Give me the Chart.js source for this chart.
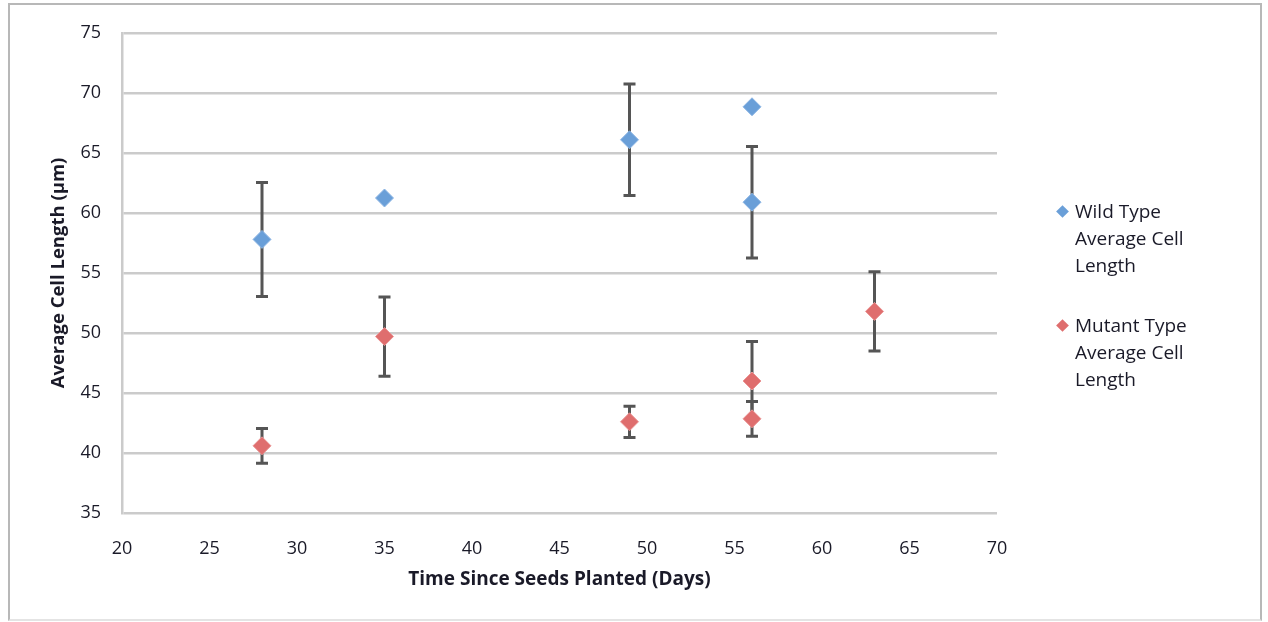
<!DOCTYPE html>
<html>
<head>
<meta charset="utf-8">
<script src="https://cdn.jsdelivr.net/npm/chart.js@4.4.1/dist/chart.umd.min.js"></script>
<style>
  html, body { margin: 0; padding: 0; background: #fff; }
  #wrap { position: relative; width: 1268px; height: 622px; overflow: hidden; }
  #frame { position: absolute; left: 8px; top: 3px; width: 1254px; height: 618px; border: 2px solid #b8b8b8; border-bottom-color: #e4e4e4; box-sizing: border-box; }
  canvas { position: absolute; left: 0; top: 0; }
  .legend { position: absolute; left: 1057px; font-family: 'Open Sans', Lato, sans-serif; font-size: 19px; line-height: 27px; color: #1a1a28; }
  .legend .mk { position: absolute; left: 1px; top: 9px; width: 9px; height: 9px; transform: rotate(45deg); }
  .legend .tx { margin-left: 18px; }
</style>
</head>
<body>
<div id="wrap">
  <div id="frame"></div>
  <canvas id="c" width="1268" height="622"></canvas>
  <div class="legend" style="top:198px"><span class="mk" style="background:#6a9fd8"></span><div class="tx">Wild Type<br>Average Cell<br>Length</div></div>
  <div class="legend" style="top:312px"><span class="mk" style="background:#df6e6e"></span><div class="tx">Mutant Type<br>Average Cell<br>Length</div></div>
</div>
<script>
// Average cell length, wild vs mutant, with error bars (± value, null = none)
const wildDays = [28, 35, 49, 56, 56];
const wildMean = [57.8, 61.25, 66.1, 68.85, 60.9];
const wildErr  = [4.75, null, 4.65, null, 4.65];

const mutDays = [28, 35, 49, 56, 56, 63];
const mutMean = [40.6, 49.7, 42.6, 46.0, 42.85, 51.8];
const mutErr  = [1.45, 3.3, 1.3, 3.3, 1.45, 3.3];

const xTicks = [20, 25, 30, 35, 40, 45, 50, 55, 60, 65, 70];
const yTicks = [35, 40, 45, 50, 55, 60, 65, 70, 75];

const BLUE = '#6a9fd8', RED = '#df6e6e', GRID = '#cbcbcb', INK = '#1a1a28', BAR = '#555555';
const FONT = "'Open Sans', Lato, sans-serif";

const pts = (xs, ys, es) => xs.map((x, i) => ({ x, y: ys[i], e: es[i] }));

// error bars drawn under the markers
const errorBars = {
  id: 'errorBars',
  beforeDatasetsDraw(chart) {
    const { ctx, scales: { x, y } } = chart;
    ctx.save();
    ctx.strokeStyle = BAR;
    ctx.lineWidth = 3;
    chart.data.datasets.forEach((ds) => {
      ds.data.forEach((p) => {
        if (p.e == null) return;
        const px = x.getPixelForValue(p.x);
        const top = y.getPixelForValue(p.y + p.e), bot = y.getPixelForValue(p.y - p.e);
        ctx.beginPath();
        ctx.moveTo(px, top); ctx.lineTo(px, bot);
        ctx.moveTo(px - 6, top); ctx.lineTo(px + 6, top);
        ctx.moveTo(px - 6, bot); ctx.lineTo(px + 6, bot);
        ctx.stroke();
      });
    });
    ctx.restore();
  },
};

new Chart(document.getElementById('c'), {
  type: 'scatter',
  data: {
    datasets: [
      { label: 'Wild Type Average Cell Length', data: pts(wildDays, wildMean, wildErr), pointStyle: 'rectRot', pointRadius: 9, backgroundColor: BLUE, borderColor: '#8db6e4', borderWidth: 1 },
      { label: 'Mutant Type Average Cell Length', data: pts(mutDays, mutMean, mutErr), pointStyle: 'rectRot', pointRadius: 9, backgroundColor: RED, borderColor: '#ea9494', borderWidth: 1 },
    ],
  },
  options: {
    responsive: false,
    animation: false,
    events: [],
    layout: { padding: { left: 10, top: 33, right: 271, bottom: 10 } },
    plugins: { legend: { display: false }, tooltip: { enabled: false } },
    scales: {
      x: {
        type: 'linear', min: 20, max: 70,
        afterFit: (s) => { s.height = 99; },
        afterBuildTicks: (s) => { s.ticks = xTicks.map((v) => ({ value: v })); },
        grid: { display: false },
        border: { display: false },
        ticks: { padding: 17, color: INK, font: { family: FONT, size: 18 } },
        title: { display: true, text: 'Time Since Seeds Planted (Days)', color: INK, font: { family: FONT, size: 19, weight: 'bold' }, padding: { top: 0, bottom: 21 } },
      },
      y: {
        type: 'linear', min: 35, max: 75,
        afterFit: (s) => { s.width = 112; },
        afterBuildTicks: (s) => { s.ticks = yTicks.map((v) => ({ value: v })); },
        grid: { color: GRID, lineWidth: 2.5, drawTicks: false },
        border: { display: true, color: GRID, width: 2.5 },
        ticks: { padding: 21, color: INK, font: { family: FONT, size: 18 } },
        title: { display: true, text: 'Average Cell Length (µm)', color: INK, font: { family: FONT, size: 18.5, weight: 'bold' }, padding: { top: 38, bottom: 0 } },
      },
    },
  },
  plugins: [errorBars],
});
</script>
</body>
</html>
